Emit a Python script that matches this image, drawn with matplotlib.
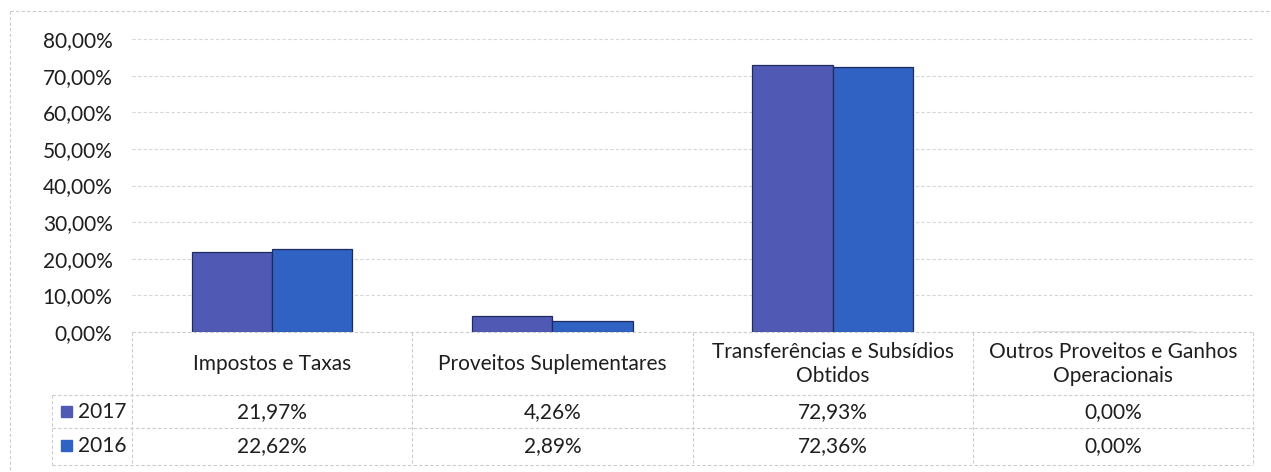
import numpy as np
import matplotlib
matplotlib.use("Agg")
import matplotlib.pyplot as plt
from matplotlib.lines import Line2D
from matplotlib.patches import Rectangle
from matplotlib.ticker import FuncFormatter, MultipleLocator

plt.rcParams['font.family'] = ['Lato', 'DejaVu Sans']

# Dados
categorias = ["Impostos e Taxas", "Proveitos Suplementares",
              "Transferências e Subsídios\nObtidos", "Outros Proveitos e Ganhos\nOperacionais"]
anos = ["2017", "2016"]
v2017 = [21.97, 4.26, 72.93, 0.00]
v2016 = [22.62, 2.89, 72.36, 0.00]
cores = ["#5059b4", "#2f62c2"]

W, H = 1271, 472
fig = plt.figure(figsize=(W / 100, H / 100), dpi=100)


def fx(px):  # pixel -> figura
    return px / W


def fy(py):
    return 1 - py / H


fs = 15  # tamanho da letra
tc = "#1e1e1e"

# eixos principais (pixel: x 132..1253, y 39..332)
ax = fig.add_axes([fx(132), fy(332), fx(1253) - fx(132), fy(39) - fy(332)])
x = np.arange(len(categorias))
bw = 0.286
for i, (vals, cor) in enumerate(zip([v2017, v2016], cores)):
    ax.bar(x - bw / 2 + i * bw, vals, bw, color=cor, edgecolor="#1f2a5e",
           linewidth=0.9, zorder=3)

ax.set_xlim(-0.5, len(categorias) - 0.5)
ax.set_ylim(0, 80)
ax.yaxis.set_major_locator(MultipleLocator(10))
ax.yaxis.set_major_formatter(FuncFormatter(lambda v, p: f"{v:.2f}".replace(".", ",") + "%"))
ax.tick_params(axis="y", length=0, pad=14, labelsize=fs, labelcolor=tc)
ax.set_xticks([])
for s in ax.spines.values():
    s.set_visible(False)
ax.grid(axis="y", color="#d6d6d6", linestyle=(0, (3, 2)), linewidth=0.8, zorder=0)


# tabela de dados
def linha(x0, y0, x1, y1):
    fig.add_artist(Line2D([fx(x0), fx(x1)], [fy(y0), fy(y1)], color="#cccccc",
                          linestyle=(0, (3, 2)), linewidth=0.8))


linha(132, 332, 1253, 332)
for yy in [395, 428, 465]:
    linha(52, yy, 1253, yy)
linha(52, 395, 52, 465)
cols = np.linspace(132, 1253, len(categorias) + 1)
for cx in cols:
    linha(cx, 332, cx, 465)

for j, cat in enumerate(categorias):
    cxm = (cols[j] + cols[j + 1]) / 2
    fig.text(fx(cxm), fy(364), cat, ha="center", va="center", fontsize=fs,
             color=tc, linespacing=1.3)
    for r, vals in enumerate([v2017, v2016]):
        fig.text(fx(cxm), fy(412 + r * 34), f"{vals[j]:.2f}".replace(".", ",") + "%",
                 ha="center", va="center", fontsize=fs, color=tc)

for r, (ano, cor) in enumerate(zip(anos, cores)):
    yc = 412 + r * 34
    fig.add_artist(Rectangle((fx(61), fy(yc + 5)), fx(11), 11 / H, color=cor,
                             transform=fig.transFigure))
    fig.text(fx(78), fy(yc), ano, ha="left", va="center", fontsize=fs, color=tc)

# moldura exterior
linha(10, 11, 1271, 11)
linha(10, 11, 10, 472)

fig.savefig("out.png", dpi=100)
